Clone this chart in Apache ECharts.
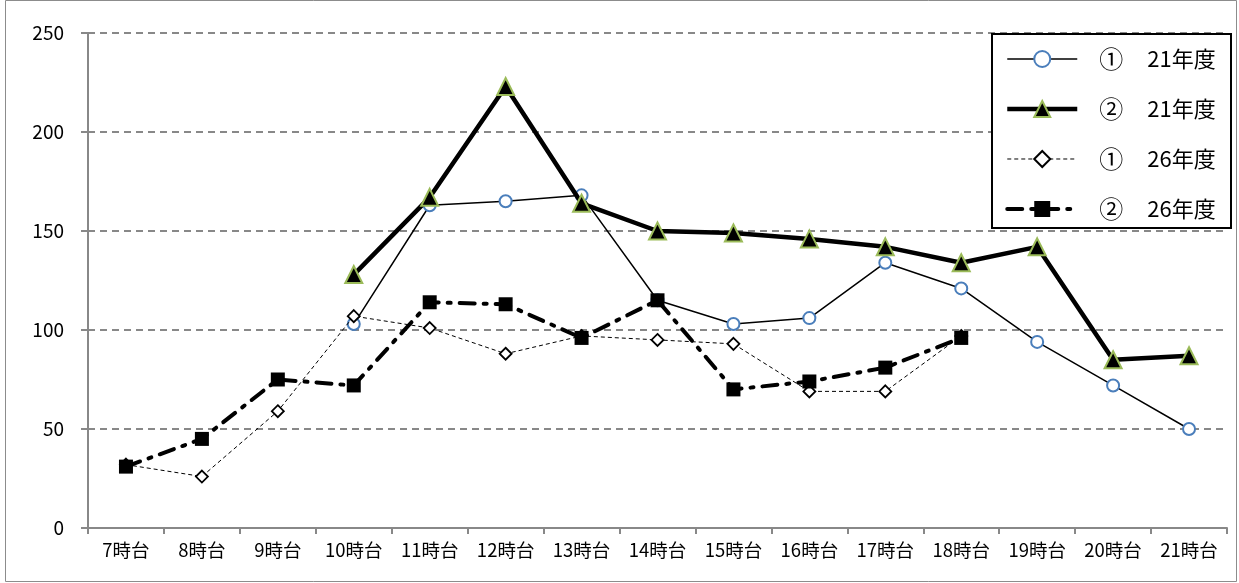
<!DOCTYPE html>
<html>
<head>
<meta charset="utf-8">
<script src="https://cdn.jsdelivr.net/npm/echarts@6/dist/echarts.min.js"></script>
<style>
  html, body { margin: 0; padding: 0; background: #fff; }
  #chart { width: 1239px; height: 583px; }
</style>
</head>
<body>
<div id="chart"></div>
<script>
// Hourly counts by time slot
const categories = ['7時台','8時台','9時台','10時台','11時台','12時台','13時台','14時台','15時台','16時台','17時台','18時台','19時台','20時台','21時台'];
const seriesNames = ['①  21年度', '②  21年度', '①  26年度', '②  26年度'];
const site1_fy21 = [null, null, null, 103, 163, 165, 168, 115, 103, 106, 134, 121, 94, 72, 50];
const site2_fy21 = [null, null, null, 128, 167, 223, 164, 150, 149, 146, 142, 134, 142, 85, 87];
const site1_fy26 = [32, 26, 59, 107, 101, 88, 97, 95, 93, 69, 69, 97, null, null, null];
const site2_fy26 = [31, 45, 75, 72, 114, 113, 96, 115, 70, 74, 81, 96, null, null, null];
const yTicks = [0, 50, 100, 150, 200, 250];

const FONT = '"Noto Sans CJK JP", "Noto Sans", sans-serif';

const lineStyles = [
  { color: '#000', width: 1.5, type: 'solid' },
  { color: '#000', width: 4.5, type: 'solid' },
  { color: '#000', width: 1, type: [4, 3] },
  { color: '#000', width: 4, type: [15, 9, 3, 9], cap: 'round' }
];

const chart = echarts.init(document.getElementById('chart'));

chart.setOption({
  animation: false,
  backgroundColor: '#fff',
  textStyle: { fontFamily: FONT },
  graphic: [
    {
      type: 'rect',
      shape: { x: 5.5, y: 0.5, width: 1231, height: 581 },
      style: { fill: 'none', stroke: '#8c8c8c', lineWidth: 1 },
      silent: true, z: -1
    },
    {
      // legend frame
      type: 'rect',
      shape: { x: 992, y: 34, width: 239, height: 194 },
      style: { fill: '#fff', stroke: '#000', lineWidth: 2 },
      silent: true, z: 10
    }
  ],
  grid: { left: 88, right: 12, top: 33, bottom: 55, containLabel: false },
  legend: {
    orient: 'vertical',
    left: 1005,
    top: 47,
    padding: 0,
    itemGap: 26,
    itemWidth: 70,
    itemHeight: 20,
    z: 20,
    textStyle: {
      fontFamily: FONT, fontSize: 22, color: '#000', padding: [0, 0, 0, 17],
      rich: {
        a: { fontFamily: FONT, fontSize: 24, width: 48, color: '#000' },
        b: { fontFamily: FONT, fontSize: 22, color: '#000' }
      }
    },
    formatter: function (name) {
      const parts = name.split(/\s+/);
      return '{a|' + parts[0] + '}{b|' + parts[1] + '}';
    },
    data: seriesNames.map((n, i) => ({ name: n, lineStyle: lineStyles[i] }))
  },
  xAxis: {
    type: 'category',
    data: categories,
    boundaryGap: true,
    axisLine: { lineStyle: { color: '#888', width: 2 } },
    axisTick: { show: true, length: 6, lineStyle: { color: '#888', width: 2 } },
    axisLabel: { color: '#000', fontSize: 18.5, fontFamily: FONT, margin: 13, interval: 0 },
    splitLine: { show: false }
  },
  yAxis: {
    type: 'value',
    min: yTicks[0],
    max: yTicks[yTicks.length - 1],
    interval: 50,
    axisLine: { show: true, lineStyle: { color: '#888', width: 2 } },
    axisTick: { show: true, length: 7, lineStyle: { color: '#888', width: 2 } },
    axisLabel: { color: '#000', fontSize: 19, fontFamily: FONT, margin: 24 },
    splitLine: { show: true, lineStyle: { color: '#888', width: 2, type: [7, 5] } }
  },
  series: [
    {
      name: seriesNames[0],
      type: 'line',
      data: site1_fy21,
      z: 3,
      symbol: 'circle',
      symbolSize: 12,
      showAllSymbol: true,
      lineStyle: lineStyles[0],
      itemStyle: { color: '#fff', borderColor: '#4a7ebb', borderWidth: 2 }
    },
    {
      name: seriesNames[1],
      type: 'line',
      data: site2_fy21,
      z: 4,
      symbol: 'triangle',
      symbolSize: 17,
      showAllSymbol: true,
      lineStyle: lineStyles[1],
      itemStyle: { color: '#000', borderColor: '#9bbb59', borderWidth: 2 }
    },
    {
      name: seriesNames[2],
      type: 'line',
      data: site1_fy26,
      z: 5,
      symbol: 'diamond',
      symbolSize: 12,
      showAllSymbol: true,
      lineStyle: lineStyles[2],
      itemStyle: { color: '#fff', borderColor: '#000', borderWidth: 1.8 }
    },
    {
      name: seriesNames[3],
      type: 'line',
      data: site2_fy26,
      z: 6,
      symbol: 'rect',
      symbolSize: 14,
      showAllSymbol: true,
      lineStyle: lineStyles[3],
      itemStyle: { color: '#000', borderColor: '#000', borderWidth: 0 }
    }
  ]
});
</script>
</body>
</html>
